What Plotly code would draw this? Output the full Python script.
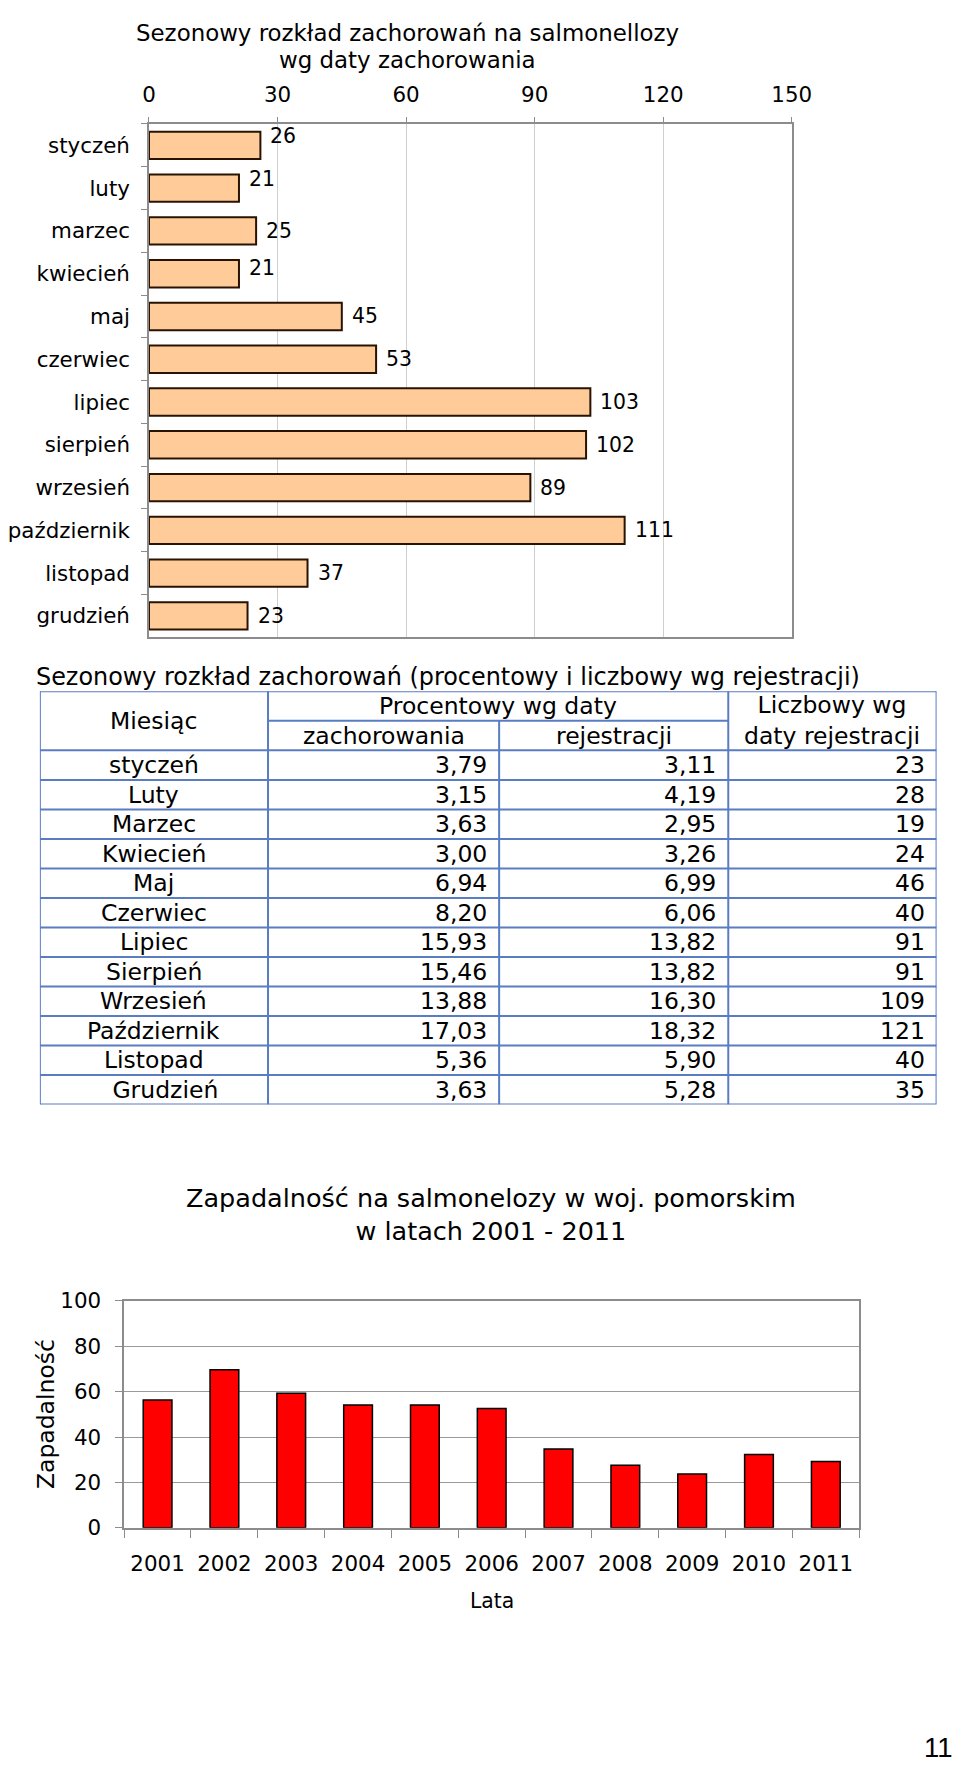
import plotly.graph_objects as go

# ---------------- data ----------------
# Chart 1: seasonal distribution by date of onset
months_chart = ["styczeń", "luty", "marzec", "kwiecień", "maj", "czerwiec",
                "lipiec", "sierpień", "wrzesień", "październik", "listopad", "grudzień"]
cases_by_onset = [26, 21, 25, 21, 45, 53, 103, 102, 89, 111, 37, 23]
x_ticks_1 = [0, 30, 60, 90, 120, 150]

# Table
table_months = ["styczeń", "Luty", "Marzec", "Kwiecień", "Maj", "Czerwiec", "Lipiec",
                "Sierpień", "Wrzesień", "Październik", "Listopad", "\u00a0\u00a0\u00a0Grudzień"]
pct_onset = [3.79, 3.15, 3.63, 3.00, 6.94, 8.20, 15.93, 15.46, 13.88, 17.03, 5.36, 3.63]
pct_registration = [3.11, 4.19, 2.95, 3.26, 6.99, 6.06, 13.82, 13.82, 16.30, 18.32, 5.90, 5.28]
count_registration = [23, 28, 19, 24, 46, 40, 91, 91, 109, 121, 40, 35]

# Chart 2: incidence 2001-2011
years = ["2001", "2002", "2003", "2004", "2005", "2006", "2007", "2008", "2009", "2010", "2011"]
incidence = [56.3, 69.6, 59.3, 54.1, 54.1, 52.5, 34.7, 27.6, 23.7, 32.3, 29.2]
y_ticks_2 = [0, 20, 40, 60, 80, 100]

# ---------------- style / layout constants ----------------
FONT = "DejaVu Sans, Verdana, sans-serif"
W, H = 985, 1790
# mapping from target picture pixels to figure pixels (measured from previous renders)
SX, OXP = 0.9723, 17.0
SY, OYP = 0.9854, 21.1
FS = 1.02


def fx(r):
    return (r - OXP) / SX


def fy(r):
    return (r - OYP) / SY


def px(r):
    return fx(r) / W


def py(r):
    return 1 - fy(r) / H


def fs(s):
    return round(s * FS, 1)


label_yshift = [9, 9, 0, 6, 0, 0, 0, 0, 0, 0, 0, 0]
col_widths = [230, 233, 231, 210]
col_edges = [0]
for w in col_widths:
    col_edges.append(col_edges[-1] + w)
n_header_rows = 2
n_rows = n_header_rows + len(table_months)
TBL_LINE = "#5a7dc2"

fig = go.Figure()

fig.add_trace(go.Bar(
    x=cases_by_onset, y=months_chart, orientation="h", width=0.64,
    marker=dict(color="#FFCC99", line=dict(color="#2a1200", width=2)),
    xaxis="x", yaxis="y", hoverinfo="skip", showlegend=False,
))

fig.add_trace(go.Bar(
    x=years, y=incidence, width=0.43,
    marker=dict(color="#FF0000", line=dict(color="#000000", width=1.5)),
    xaxis="x2", yaxis="y2", hoverinfo="skip", showlegend=False,
))

fig.add_trace(go.Scatter(x=[col_edges[0], col_edges[-1]], y=[0, n_rows], mode="markers",
                         marker=dict(opacity=0), xaxis="x3", yaxis="y3",
                         hoverinfo="skip", showlegend=False))

annotations = []
shapes = []

for m, v, dy in zip(months_chart, cases_by_onset, label_yshift):
    annotations.append(dict(x=v, y=m, xref="x", yref="y", text=str(v), showarrow=False,
                            xanchor="left", yanchor="middle", xshift=8, yshift=dy,
                            font=dict(size=fs(20))))

# Chart 1 title (two lines, kept as high as the page allows)
annotations.append(dict(x=px(405), y=py(33), xref="paper", yref="paper",
                        text="Sezonowy rozkład zachorowań na salmonellozy",
                        showarrow=False, xanchor="center", yanchor="middle",
                        font=dict(size=fs(22.5))))
annotations.append(dict(x=px(405), y=py(60), xref="paper", yref="paper",
                        text="wg daty zachorowania",
                        showarrow=False, xanchor="center", yanchor="middle",
                        font=dict(size=fs(22.5))))

annotations.append(dict(x=px(28), y=py(677), xref="paper", yref="paper",
                        text="Sezonowy rozkład zachorowań (procentowy i liczbowy wg rejestracji)",
                        showarrow=False, xanchor="left", yanchor="middle",
                        font=dict(size=fs(23.4))))

line = dict(color=TBL_LINE, width=2)
shapes.append(dict(type="line", xref="x3", yref="y3", x0=col_edges[0], x1=col_edges[-1], y0=0, y1=0, line=line))
shapes.append(dict(type="line", xref="x3", yref="y3", x0=col_edges[1], x1=col_edges[3], y0=1, y1=1, line=line))
for r in range(n_header_rows, n_rows + 1):
    shapes.append(dict(type="line", xref="x3", yref="y3", x0=col_edges[0], x1=col_edges[-1],
                       y0=r, y1=r, line=line))
for ci in [0, 1, 3, 4]:
    shapes.append(dict(type="line", xref="x3", yref="y3", x0=col_edges[ci], x1=col_edges[ci],
                       y0=0, y1=n_rows, line=line))
shapes.append(dict(type="line", xref="x3", yref="y3", x0=col_edges[2], x1=col_edges[2],
                   y0=1, y1=n_rows, line=line))

TF = dict(size=fs(23))


def cell(x, y, text, anchor="center"):
    annotations.append(dict(x=x, y=y, xref="x3", yref="y3", text=text, showarrow=False,
                            xanchor=anchor, yanchor="middle", font=TF))


cell((col_edges[0] + col_edges[1]) / 2, 1, "Miesiąc")
cell((col_edges[1] + col_edges[3]) / 2, 0.5, "Procentowy wg daty")
cell((col_edges[1] + col_edges[2]) / 2, 1.5, "zachorowania")
cell((col_edges[2] + col_edges[3]) / 2, 1.5, "rejestracji")
cell((col_edges[3] + col_edges[4]) / 2, 1, "Liczbowy wg<br>daty rejestracji")

pad = 10
for i, (m, a, b, c) in enumerate(zip(table_months, pct_onset, pct_registration, count_registration)):
    yy = n_header_rows + i + 0.5
    cell((col_edges[0] + col_edges[1]) / 2, yy, m)
    cell(col_edges[2] - pad, yy, f"{a:.2f}".replace(".", ","), "right")
    cell(col_edges[3] - pad, yy, f"{b:.2f}".replace(".", ","), "right")
    cell(col_edges[4] - pad, yy, str(c), "right")

annotations.append(dict(x=px(489), y=py(1214), xref="paper", yref="paper",
                        text="Zapadalność na salmonelozy w woj. pomorskim<br>w latach 2001 - 2011",
                        showarrow=False, xanchor="center", yanchor="middle",
                        font=dict(size=fs(25))))
annotations.append(dict(x=0.5, y=py(1600), xref="x2 domain", yref="paper", text="Lata",
                        showarrow=False, xanchor="center", yanchor="middle",
                        font=dict(size=fs(20))))
annotations.append(dict(x=px(40), y=0.5, xref="paper", yref="y2 domain", text="Zapadalność",
                        showarrow=False, xanchor="center", yanchor="middle", textangle=-90,
                        font=dict(size=fs(23))))
annotations.append(dict(x=px(957), y=py(1746), xref="paper", yref="paper", text="11",
                        showarrow=False, xanchor="right", yanchor="middle",
                        font=dict(size=fs(27), family="Liberation Sans, Arial, sans-serif")))

AX1 = "#8c8c8c"
fig.update_layout(
    width=W, height=H, margin=dict(l=0, r=0, t=0, b=0),
    paper_bgcolor="white", plot_bgcolor="white",
    font=dict(family=FONT, color="black"),
    showlegend=False,
    xaxis=dict(domain=[px(144), px(792)], anchor="y", side="top", range=[0, 150],
               tickvals=x_ticks_1, showgrid=True, gridcolor="#cfcfcf", gridwidth=1,
               showline=True, linecolor=AX1, linewidth=1.5, mirror=True,
               ticks="outside", ticklen=5, tickcolor=AX1, tickfont=dict(size=fs(21)),
               ticklabelstandoff=7, zeroline=False, fixedrange=True),
    yaxis=dict(domain=[py(637), py(124)], anchor="x", type="category", autorange="reversed",
               showline=True, linecolor=AX1, linewidth=1.5, mirror=True, showgrid=False,
               ticks="outside", tickson="boundaries", ticklen=6, tickcolor=AX1,
               tickfont=dict(size=fs(21)), ticklabelstandoff=13, fixedrange=True),
    xaxis2=dict(domain=[px(119), px(860)], anchor="y2", type="category",
                showline=True, linecolor=AX1, linewidth=1.5, mirror=True, showgrid=False,
                ticks="outside", tickson="boundaries", ticklen=8, tickcolor=AX1,
                tickfont=dict(size=fs(21)), ticklabelstandoff=16, fixedrange=True),
    yaxis2=dict(domain=[py(1527), py(1300)], anchor="x2", range=[0, 100], tickvals=y_ticks_2,
                showgrid=True, gridcolor="#9a9a9a", gridwidth=1,
                showline=True, linecolor=AX1, linewidth=1.5, mirror=True,
                ticks="outside", ticklen=7, tickcolor=AX1, tickfont=dict(size=fs(21)),
                ticklabelstandoff=10, zeroline=False, fixedrange=True),
    xaxis3=dict(domain=[px(34), px(938)], anchor="y3", range=[col_edges[0], col_edges[-1]],
                visible=False, fixedrange=True),
    yaxis3=dict(domain=[py(1104), py(691)], anchor="x3", range=[n_rows, 0],
                visible=False, fixedrange=True),
    annotations=annotations,
    shapes=shapes,
)

fig.write_html("out.html")
